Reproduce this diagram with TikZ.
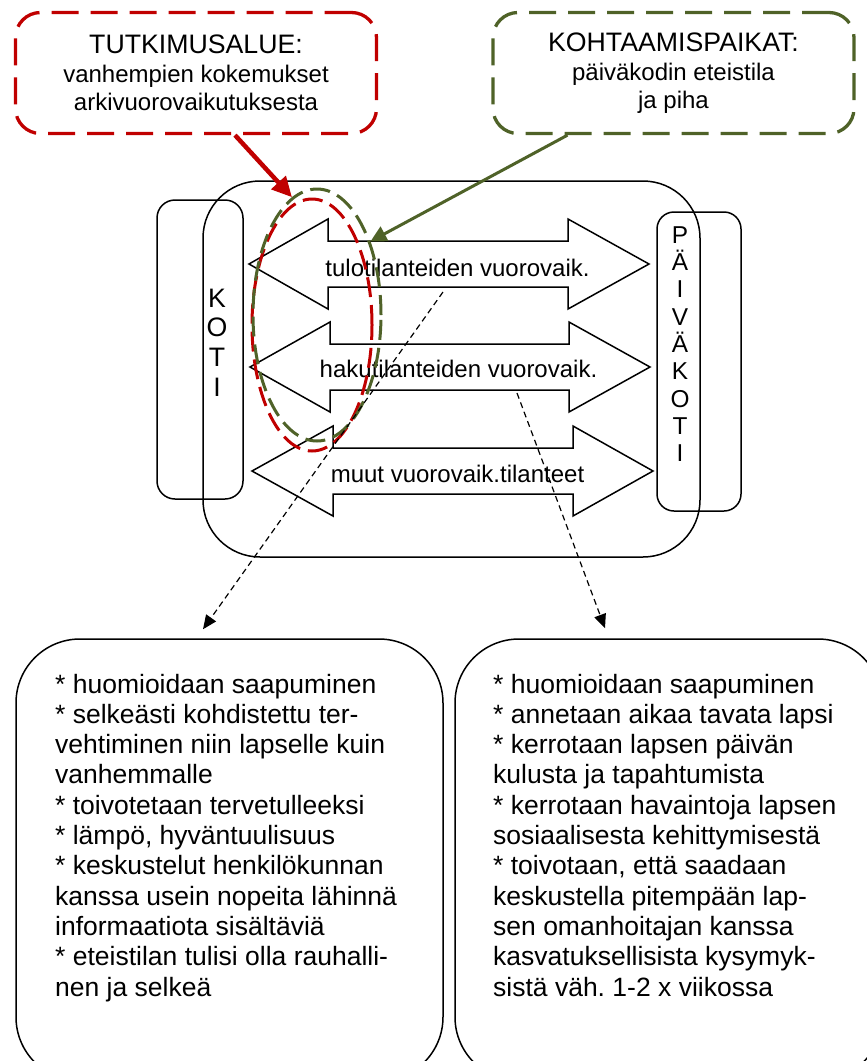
\documentclass[tikz,border=0pt]{standalone}
\usepackage{fontspec}
\setmainfont{Liberation Sans}
\usetikzlibrary{arrows.meta,shapes.geometric}
\definecolor{dkred}{RGB}{192,0,0}
\definecolor{olivegr}{RGB}{79,98,40}
\frenchspacing
\newcommand{\dblarrow}[5]{%
  \draw[blockarr] (#1,#5) -- (#2,{#5-45}) -- (#2,{#5-23}) -- (#3,{#5-23}) -- (#3,{#5-45})
   -- (#4,#5) -- (#3,{#5+45}) -- (#3,{#5+23}) -- (#2,{#5+23}) -- (#2,{#5+45}) -- cycle;}
\newcommand{\nl}{\\\relax}
\begin{document}
\begin{tikzpicture}[x=1pt,y=-1pt,
  frame/.style={draw=black,line width=1.5pt,rounded corners=#1,inner sep=0pt},
  blockarr/.style={draw=black,fill=white,line width=1.5pt,line join=miter},
  topbox/.style={draw=#1,line width=3.3pt,dash pattern=on 27pt off 12pt,rounded corners=25pt,
     inner sep=0pt,minimum width=361pt,minimum height=121pt,align=center,
     font=\fontsize{24}{27.5}\selectfont},
  ell/.style={ellipse,draw=#1,line width=3pt,dash pattern=on 20pt off 8pt,inner sep=0pt},
  lbl/.style={anchor=base,inner sep=0pt,font=\fontsize{24}{27}\selectfont},
  conn/.style={draw=black,line width=1.2pt,dash pattern=on 6pt off 4pt,-{Triangle[length=14pt,width=12pt]}},
  body/.style={anchor=base west,inner sep=0pt,font=\fontsize{26.5}{30.3}\selectfont}
]
\useasboundingbox (0,0) rectangle (867,1061);
\clip (0,0) rectangle (867,1061);

% central frame and side boxes
\node[frame=57pt,minimum width=497pt,minimum height=376pt] (main) at (451.5,369) {};
\node[frame=18pt,minimum width=86pt,minimum height=299pt] (koti) at (200,349.5) {};
\node[frame=17pt,minimum width=84pt,minimum height=299pt] (pk) at (699,361.5) {};
\node[align=center,inner sep=0pt,font=\fontsize{26.7}{29.7}\selectfont] (kotitxt) at (217,342.5) {K\\O\\T\\I};
\node[align=center,inner sep=0pt,font=\fontsize{24.4}{27.3}\selectfont] (pktxt) at (680,344) {P\\Ä\\I\\V\\Ä\\K\\O\\T\\I};

% block arrows
\dblarrow{249}{328}{568}{649}{264}
\dblarrow{250}{330}{569}{650}{367}
\dblarrow{252}{333}{573}{653}{471}
\node[lbl] (tulo) at (457.5,276) {tulotilanteiden vuorovaik.};
\node[lbl] (haku) at (458.5,377) {hakutilanteiden vuorovaik.};
\node[lbl] (muut) at (457.5,482) {muut vuorovaik.tilanteet};

% ellipses
\node[ell=dkred,minimum width=120pt,minimum height=252pt] (redell) at (312,325) {};
\node[ell=olivegr,minimum width=128pt,minimum height=252pt] (greenell) at (317,315) {};

% top boxes
\node[topbox=dkred] (tut) at (196,73)
  {{\fontsize{26.7}{29}\selectfont TUTKIMUSALUE:}\\[1.5pt]vanhempien kokemukset\\arkivuorovaikutuksesta};
\node[topbox=olivegr] (kohta) at (673.5,73)
  {{\fontsize{26.7}{29}\selectfont KOHTAAMISPAIKAT:}\\[1.5pt]päiväkodin eteistila\\ja piha};

\draw[dkred,line width=4.5pt,-{Triangle[length=20pt,width=19pt]}] ([xshift=39pt]tut.south) -- (greenell.102);
\draw[olivegr,line width=3pt,-{Triangle[length=16pt,width=16pt]}] ([xshift=-106pt]kohta.south) -- (greenell.54);

% bottom boxes
\node[frame=64pt,minimum width=427pt,minimum height=442pt] (lbox) at (229.5,860) {};
\node[frame=64pt,minimum width=427pt,minimum height=442pt] (rbox) at (668.5,860) {};

\node[body] (ltxt) at (55,693) {\parbox[t]{385pt}{%
* huomioidaan saapuminen\nl
* selkeästi kohdistettu ter-\nl
vehtiminen niin lapselle kuin\nl
vanhemmalle\nl
* toivotetaan tervetulleeksi\nl
* lämpö, hyväntuulisuus\nl
* keskustelut henkilökunnan\nl
kanssa usein nopeita lähinnä\nl
informaatiota sisältäviä\nl
* eteistilan tulisi olla rauhalli-\nl
nen ja selkeä}};
\node[body] (rtxt) at (493,693) {\parbox[t]{370pt}{%
* huomioidaan saapuminen\nl
* annetaan aikaa tavata lapsi\nl
* kerrotaan lapsen päivän\nl
kulusta ja tapahtumista\nl
* kerrotaan havaintoja lapsen\nl
sosiaalisesta kehittymisestä\nl
* toivotaan, että saadaan\nl
keskustella pitempään lap-\nl
sen omanhoitajan kanssa\nl
kasvatuksellisista kysymyk-\nl
sistä väh. 1-2 x viikossa}};

% dashed connectors
\coordinate (c1) at (443,292);
\coordinate (c2) at (517,393);
\draw[conn] (c1) -- ([xshift=-26.5pt,yshift=9pt]lbox.north);
\draw[conn] (c2) -- ([xshift=-63.5pt,yshift=10pt]rbox.north);
\end{tikzpicture}
\end{document}
